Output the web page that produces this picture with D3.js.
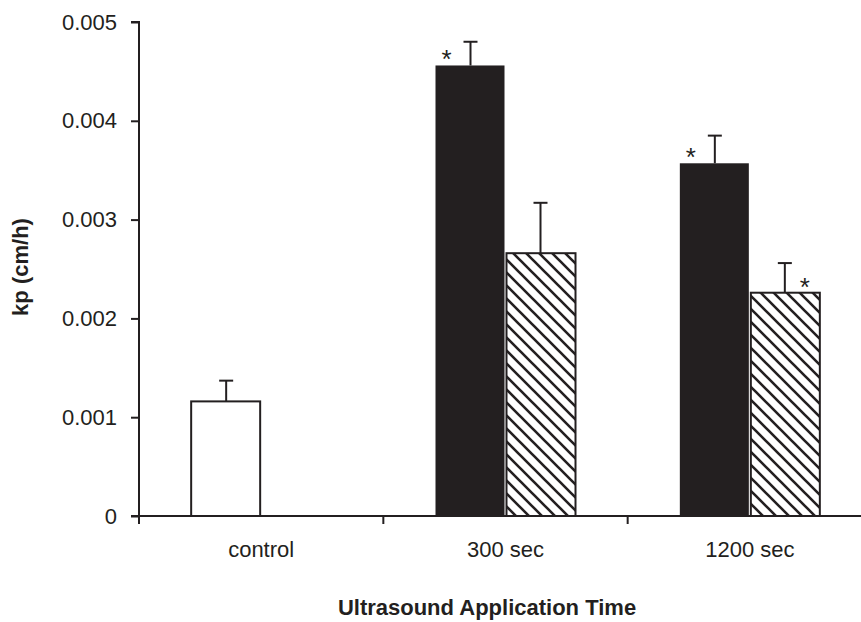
<!DOCTYPE html>
<html>
<head>
<meta charset="utf-8">
<script src="https://cdn.jsdelivr.net/npm/d3@7"></script>
<style>
  body { margin: 0; background: #fff; }
  svg text { font-family: "Liberation Sans", Arial, sans-serif; fill: #231f20; }
  .axis path, .axis line { stroke: #231f20; stroke-width: 2px; }
</style>
</head>
<body>
<svg id="bars" width="861" height="622"></svg>
<script>
// values (kp in cm/h)
const categories = ["control", "300 sec", "1200 sec"];
const seriesNames = ["first", "second"];
const firstMeans = [0.00116, 0.00456, 0.00357];
const firstErrTop = [0.00137, 0.0048, 0.00385];
const secondMeans = [null, 0.00266, 0.00226];
const secondErrTop = [null, 0.00317, 0.00256];
const firstSig = [false, true, true];
const secondSig = [false, false, true];
const yTicks = [0, 0.001, 0.002, 0.003, 0.004, 0.005];
const yTickLabels = ["0", "0.001", "0.002", "0.003", "0.004", "0.005"];

const ink = "#231f20";
const svg = d3.select("svg#bars");
const plotLeft = 139, plotRight = 872, plotTop = 22, plotBottom = 516;

const x = d3.scaleBand(categories, [plotLeft, plotRight]).paddingInner(0).paddingOuter(0);
const y = d3.scaleLinear([0, 0.005], [plotBottom, plotTop]);
const barW = 70;
const sub = d3.scaleBand(seriesNames, [-barW, barW]).padding(0);

// hatch pattern
const s = 13;
const pat = svg.append("defs").append("pattern")
  .attr("id", "hatch")
  .attr("patternUnits", "userSpaceOnUse")
  .attr("width", s).attr("height", s);
pat.append("rect").attr("width", s).attr("height", s).attr("fill", "#fff");
pat.append("path")
  .attr("d", `M${-s/2},${-s/2} L${1.5*s},${1.5*s} M${-s/2},${s/2} L${s/2},${1.5*s} M${s/2},${-s/2} L${1.5*s},${s/2}`)
  .attr("stroke", ink).attr("stroke-width", 2.6);

// rows
const rows = [];
categories.forEach((c, i) => {
  rows.push({ cat: c, ser: "first", v: firstMeans[i], e: firstErrTop[i], sig: firstSig[i], i });
  if (secondMeans[i] !== null)
    rows.push({ cat: c, ser: "second", v: secondMeans[i], e: secondErrTop[i], sig: secondSig[i], i });
});
const cx = d => x(d.cat) + x.bandwidth() / 2;
const bx = d => cx(d) + sub(d.ser);
const fillOf = d => d.ser === "second" ? "url(#hatch)" : (d.i === 0 ? "#fff" : ink);

const chart = svg.append("g");

// error bars
chart.selectAll("line.err")
  .data(rows)
  .join("line")
  .attr("class", "err")
  .attr("x1", d => bx(d) + sub.bandwidth() / 2)
  .attr("x2", d => bx(d) + sub.bandwidth() / 2)
  .attr("y1", d => y(d.v))
  .attr("y2", d => y(d.e))
  .attr("stroke", ink).attr("stroke-width", 2);
chart.selectAll("line.cap")
  .data(rows)
  .join("line")
  .attr("class", "cap")
  .attr("x1", d => bx(d) + sub.bandwidth() / 2 - 7)
  .attr("x2", d => bx(d) + sub.bandwidth() / 2 + 7)
  .attr("y1", d => y(d.e))
  .attr("y2", d => y(d.e))
  .attr("stroke", ink).attr("stroke-width", 2);

// bars
chart.selectAll("rect.bar")
  .data(rows)
  .join("rect")
  .attr("class", "bar")
  .attr("x", d => bx(d) + (d.ser === "second" ? 1 : 0))
  .attr("y", d => y(d.v))
  .attr("width", sub.bandwidth() - 1)
  .attr("height", d => y(0) - y(d.v))
  .attr("fill", fillOf)
  .attr("stroke", d => fillOf(d) === ink ? "none" : ink)
  .attr("stroke-width", 2);

// significance marks
chart.selectAll("text.sig")
  .data(rows.filter(d => d.sig))
  .join("text")
  .attr("class", "sig")
  .attr("x", d => bx(d) + sub.bandwidth() / 2 + (d.ser === "first" ? -24 : 20))
  .attr("y", d => y(d.v) + 3)
  .attr("text-anchor", "middle")
  .attr("font-size", 26)
  .text("*");

// y axis
const yAxis = svg.append("g")
  .attr("class", "axis")
  .attr("transform", `translate(${plotLeft},0)`)
  .call(d3.axisLeft(y).tickValues(yTicks).tickSize(8).tickPadding(14)
    .tickFormat((d, i) => yTickLabels[i]));
yAxis.select(".domain").attr("d", `M-8,${plotTop}H0V${plotBottom}`);
yAxis.selectAll("text").attr("font-size", 22);

// x axis
const xAxis = svg.append("g")
  .attr("class", "axis")
  .attr("transform", `translate(0,${plotBottom})`)
  .call(d3.axisBottom(x).tickSize(0).tickPadding(0));
xAxis.select(".domain").attr("d", `M${plotLeft - 8},0H${plotRight}`);
xAxis.selectAll("text").attr("font-size", 22).attr("y", 41).attr("dy", 0);
xAxis.selectAll("line.bound")
  .data(categories.map(c => x(c)).concat([x.range()[1]]))
  .join("line")
  .attr("class", "bound")
  .attr("x1", d => d).attr("x2", d => d)
  .attr("y1", 0).attr("y2", 8);

// titles
svg.append("text")
  .attr("transform", "translate(28,267) rotate(-90)")
  .attr("text-anchor", "middle")
  .attr("font-size", 22)
  .attr("font-weight", "bold")
  .text("kp (cm/h)");
svg.append("text")
  .attr("x", 487).attr("y", 615)
  .attr("text-anchor", "middle")
  .attr("font-size", 22)
  .attr("font-weight", "bold")
  .text("Ultrasound Application Time");
</script>
</body>
</html>
